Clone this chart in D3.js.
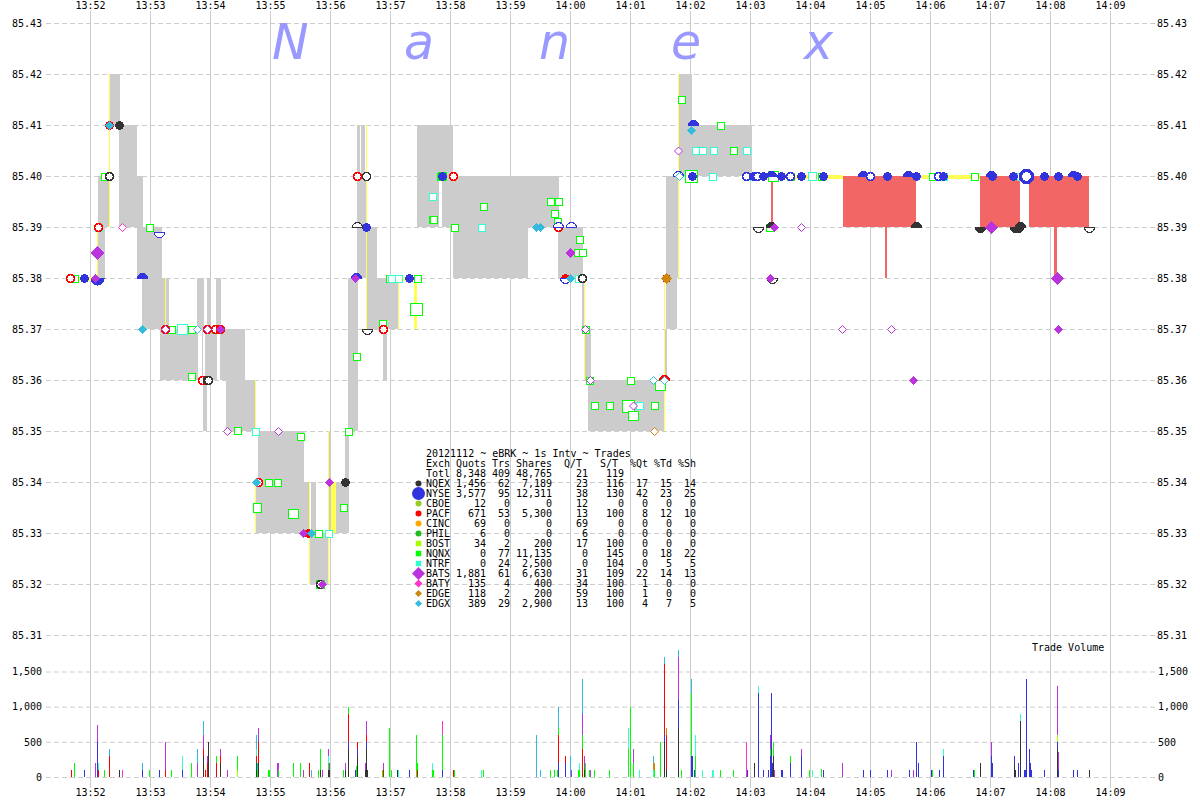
<!DOCTYPE html>
<html><head><meta charset="utf-8">
<script src="https://cdn.jsdelivr.net/npm/d3@7/dist/d3.min.js"></script>
<style>html,body{margin:0;padding:0;background:#fff}svg{display:block}
text{font-family:"DejaVu Sans Mono",monospace;font-size:10px;fill:#000}</style>
</head><body><svg id="c" width="1200" height="800"></svg>
<script>
// seconds after 13:52:00
const timeTicks=d3.range(0,18).map(i=>i*60);
const priceTicks=[85.31,85.32,85.33,85.34,85.35,85.36,85.37,85.38,85.39,85.40,85.41,85.42,85.43];
const volumeTicks=[0,500,1000,1500];
const brand=[["N",182],["a",314],["n",449],["e",581],["x",714]];

// quoted spread bands [s0,s1,low,high]
const spreadBands=[[8,15,85.38,85.39],[8,19,85.39,85.40],[20,30,85.41,85.42],[29,47,85.39,85.41],[47,53,85.39,85.40],[47,72,85.38,85.39],[52,79,85.37,85.38],[107,114,85.37,85.38],[117,121,85.37,85.38],[126,131,85.37,85.38],[70,108,85.36,85.37],[112,113,85.36,85.37],[115,127,85.36,85.37],[130,155,85.36,85.37],[113,117,85.35,85.36],[136,165,85.35,85.36],[168,214,85.34,85.35],[166,219,85.33,85.34],[221,226,85.33,85.34],[239,259,85.33,85.34],[220,238,85.32,85.33],[239,241,85.34,85.35],[255,259,85.34,85.35],[258,268,85.35,85.38],[277,309,85.37,85.38],[293,297,85.36,85.37],[267,270,85.40,85.41],[271,275,85.40,85.41],[267,276,85.39,85.40],[267,287,85.38,85.39],[327,363,85.40,85.41],[327,349,85.39,85.40],[352,469,85.39,85.40],[363,438,85.38,85.39],[468,493,85.38,85.39],[492,495,85.37,85.38],[494,501,85.36,85.37],[498,574,85.35,85.36],[574,577,85.36,85.37],[576,587,85.37,85.38],[576,588,85.38,85.40],[589,602,85.41,85.42],[589,662,85.40,85.41]];
const lockedBands=[[7,8,85.38,85.39],[19,20,85.39,85.42],[75,76,85.37,85.38],[165,166,85.35,85.36],[165,166,85.33,85.34],[219,220,85.32,85.34],[238,239,85.32,85.35],[241,246,85.33,85.34],[276,277,85.37,85.41],[308,309,85.37,85.38],[324,327,85.37,85.38],[494,495,85.36,85.38],[574,575,85.35,85.38],[588,589,85.38,85.42]];
const lockedFlat=[[-18,7,85.38],[300,327,85.38],[663,753,85.40],[832,838,85.40],[857,890,85.40]];
const crossedBands=[[753,826,85.39,85.40],[890,930,85.39,85.40],[939,999,85.39,85.40],[681,683,85.39,85.40],[795,797,85.38,85.39],[964,967,85.38,85.39]];

// markers [s,price,kind,shares]  F filled, O open, T/U upper half filled/open, B/V lower half filled/open
const mNQNX=[[-16,85.38,"O"],[14,85.40,"O"],[59,85.39,"O"],[81,85.37,"O"],[101,85.37,"O"],[101,85.3607,"O"],[147,85.3501,"O"],[125,85.37,"O"],[210,85.349,"O"],[178,85.34,"O"],[187,85.34,"O"],[167,85.335,"O",200],[203,85.3338,"O",300],[228,85.33,"O"],[230,85.32,"O",200],[253,85.335,"O"],[266,85.3646,"O"],[258,85.35,"O"],[326,85.374,"O",500],[292,85.371,"O"],[300,85.38,"O"],[327,85.38,"O"],[299,85.38,"O"],[342,85.3914,"O"],[350,85.40,"O"],[352,85.40,"O",200],[343,85.3914,"O"],[364,85.39,"O"],[393,85.394,"O"],[460,85.395,"O"],[468,85.395,"O"],[464,85.3926,"O"],[467,85.391,"O"],[489,85.3875,"O"],[487,85.385,"O"],[492,85.385,"O"],[495,85.37,"O"],[499,85.36,"O"],[504,85.355,"O"],[519,85.355,"O"],[540,85.36,"O"],[538,85.355,"O",500],[543,85.353,"O",300],[564,85.355,"O"],[570,85.359,"O",300],[591,85.415,"O"],[601,85.40,"O",500],[630,85.41,"O"],[643,85.405,"O"],[683,85.40,"O",300],[679,85.39,"O"],[700,85.40,"O"],[731,85.40,"O"],[842,85.40,"O"],[884,85.40,"O"]];
const mNTRF=[[8,85.39,"O"],[92,85.37,"O",300],[165,85.35,"O"],[238,85.33,"O"],[308,85.38,"O"],[301,85.38,"O"],[342,85.396,"O"],[391,85.39,"O"],[488,85.38,"O"],[549,85.355,"O"],[605,85.405,"O"],[612,85.405,"O"],[623,85.405,"O"],[622,85.40,"O"],[656,85.405,"O"],[663,85.40,"O"],[722,85.40,"O",200],[853,85.40,"O"],[930,85.40,"O"]];
const mPACF=[[-20,85.38,"O"],[19,85.41,"F"],[8,85.39,"O"],[267,85.40,"O"],[363,85.40,"O"],[75,85.37,"O"],[117,85.37,"O"],[125,85.37,"O"],[130,85.37,"O"],[112,85.36,"O"],[168,85.34,"O"],[293,85.37,"O"],[218,85.33,"F"],[468,85.39,"O"],[475,85.38,"F"],[574,85.36,"T"],[576,85.38,"F"]];
const mNYSE=[[-6,85.38,"F"],[7,85.38,"B",200],[52,85.38,"T"],[69,85.389,"V"],[276,85.39,"F"],[266,85.38,"T"],[319,85.38,"F"],[352,85.40,"F"],[481,85.39,"U"],[468,85.39,"U"],[475,85.38,"V"],[603,85.41,"T"],[602,85.40,"F"],[588,85.40,"U"],[656,85.40,"O"],[663,85.40,"F"],[667,85.40,"O"],[673,85.40,"F"],[681,85.40,"T"],[691,85.40,"F"],[700,85.40,"O"],[711,85.40,"F"],[733,85.40,"F"],[773,85.40,"T"],[780,85.40,"O"],[797,85.40,"F"],[818,85.40,"T"],[826,85.40,"F"],[848,85.40,"O"],[853,85.40,"F"],[901,85.40,"T"],[902,85.40,"F"],[923,85.40,"F"],[936,85.40,"O",1400],[954,85.40,"F"],[968,85.40,"F"],[983,85.40,"T"],[987,85.40,"F"]];
const mNQEX=[[29,85.41,"F"],[19,85.40,"O"],[276,85.40,"O",300],[267,85.39,"U"],[277,85.37,"V"],[668,85.39,"V"],[682,85.38,"V"],[999,85.39,"V"],[826,85.39,"T"],[890,85.39,"B"],[925,85.39,"B"],[928,85.39,"B"],[930,85.39,"T"],[255,85.34,"F"],[117,85.36,"O"],[118,85.36,"O"],[230,85.32,"O"],[492,85.38,"O"],[681,85.39,"T"],[967,85.38,"F"]];
const mBATS=[[7,85.385,"F",500],[5,85.38,"F"],[213,85.33,"F"],[232,85.32,"F"],[239,85.34,"F"],[130,85.37,"F"],[265,85.38,"F"],[480,85.385,"F"],[684,85.39,"F"],[680,85.38,"F"],[901,85.39,"F",500],[967,85.38,"F",500],[968,85.37,"F"],[823,85.36,"F"],[711,85.39,"O"],[752,85.37,"O"],[801,85.37,"O"],[137,85.35,"O"],[188,85.35,"O"],[588,85.405,"O"],[495,85.37,"O"],[500,85.36,"O"],[543,85.355,"O"],[75,85.37,"O"],[117,85.37,"O"]];
const mBATY=[[32,85.39,"O"]];
const mEDGE=[[576,85.38,"F",200],[564,85.35,"O"]];
const mEDGX=[[19,85.41,"F"],[52,85.37,"F"],[446,85.39,"F"],[450,85.39,"F"],[480,85.38,"F"],[601,85.409,"F"],[221,85.33,"F"],[166,85.34,"F"],[107,85.37,"O"],[589,85.40,"O"],[563,85.36,"O"],[574,85.36,"O"]];

// trade volume per exchange [s,shares]
const vNQEX=[[29,100],[113,300],[118,500],[130,200],[166,100],[168,200],[230,100],[238,100],[239,100],[255,100],[258,400],[267,300],[275,100],[276,400],[277,100],[307,100],[494,100],[574,500],[576,100],[588,700],[664,200],[682,100],[683,300],[890,200],[924,200],[925,100],[930,800],[967,400],[999,100]];
const vNYSE=[[-6,100],[7,500],[52,100],[69,100],[92,100],[166,100],[258,100],[265,100],[267,100],[276,100],[319,100],[352,100],[468,200],[475,200],[574,100],[588,400],[601,300],[602,300],[604,100],[657,100],[668,1200],[673,100],[678,100],[680,300],[681,1200],[682,100],[691,100],[692,100],[700,200],[711,300],[733,100],[773,100],[780,100],[797,100],[819,100],[826,500],[828,200],[841,100],[849,100],[853,300],[883,100],[901,300],[902,200],[924,100],[928,200],[934,100],[935,100],[936,1400],[939,400],[940,200],[941,100],[954,100],[967,100],[968,100],[983,100],[987,100]];
const vPACF=[[-19,100],[8,100],[19,300],[75,100],[113,100],[115,100],[117,200],[126,200],[130,100],[166,100],[168,300],[219,200],[258,400],[267,100],[276,100],[293,100],[327,100],[363,100],[468,400],[475,100],[492,400],[574,1000],[576,500]];
const vBOST=[[147,100],[967,100]];
const vNQNX=[[-16,200],[14,100],[59,100],[81,100],[101,200],[126,100],[147,200],[167,200],[178,100],[179,100],[188,100],[203,200],[210,200],[228,100],[230,300],[238,100],[253,100],[258,100],[266,150],[292,100],[299,700],[301,100],[326,600],[327,100],[342,100],[343,100],[352,500],[364,100],[393,100],[460,100],[464,100],[467,100],[468,100],[488,100],[489,100],[492,200],[495,200],[499,100],[504,100],[519,100],[538,400],[540,1000],[543,200],[564,100],[570,500],[591,100],[601,900],[605,300],[630,100],[643,100],[680,100],[683,200],[700,100],[719,100],[731,110],[842,100],[884,100]];
const vNTRF=[[8,100],[92,200],[166,100],[238,100],[308,100],[342,100],[391,100],[489,100],[538,300],[549,100],[563,100],[605,300],[612,100],[622,100],[623,100],[668,100],[722,100],[853,100],[930,100]];
const vBATS=[[5,200],[7,240],[75,400],[107,200],[113,200],[117,100],[130,100],[137,100],[168,200],[187,200],[188,100],[213,100],[232,100],[238,100],[239,100],[255,100],[275,100],[276,200],[293,100],[481,100],[492,300],[494,200],[500,100],[543,200],[588,600],[680,200],[684,100],[711,100],[752,200],[801,100],[823,100],[901,200],[967,700],[968,250]];
const vBATY=[[32,100],[352,200],[656,500]];
const vEDGE=[[563,100],[564,100],[576,100]];
const vEDGX=[[19,100],[52,100],[107,200],[113,200],[166,200],[221,100],[446,600],[450,100],[468,300],[480,300],[492,500],[563,100],[574,100],[588,100],[601,200]];

// summary table
const legendTitle="20121112 ~ eBRK ~ 1s Intv ~ Trades";
const headNames=["Quots","Trs","Shares","Q/T","S/T","%Qt","%Td","%Sh"];
const exch=["Totl","NQEX","NYSE","CBOE","PACF","CINC","PHIL","BOST","NQNX","NTRF","BATS","BATY","EDGE","EDGX"];
const colQuots=["8,348","1,456","3,577","12","671","69","6","34","0","0","1,881","135","118","389"];
const colTrs=["409","62","95","0","53","0","0","2","77","24","61","4","2","29"];
const colShares=["48,765","7,189","12,311","0","5,300","0","0","200","11,135","2,500","6,630","400","200","2,900"];
const colQT=["21","23","38","12","13","69","6","17","0","0","31","34","59","13"];
const colST=["119","116","130","0","100","0","0","100","145","104","109","100","100","100"];
const colPQ=["","17","42","0","8","0","0","0","0","0","22","1","1","4"];
const colPT=["","15","23","0","12","0","0","0","18","5","14","0","0","7"];
const colPS=["","14","25","0","10","0","0","0","22","5","13","0","0","5"];

const color={NQEX:"#333333",NYSE:"#3333dd",CBOE:"#99cc22",PACF:"#ff0000",CINC:"#ffaa00",PHIL:"#22bb22",BOST:"#aaff00",NQNX:"#00ff00",NTRF:"#33ffcc",BATS:"#bb33dd",BATY:"#ff33cc",EDGE:"#cc8811",EDGX:"#33bbdd"};
const shape={NQEX:"c",NYSE:"c",CBOE:"c",PACF:"c",CINC:"c",PHIL:"c",BOST:"s",NQNX:"s",NTRF:"s",BATS:"d",BATY:"d",EDGE:"d",EDGX:"d"};

const svg=d3.select("#c");
const x=d3.scaleLinear().domain([0,1020]).range([90,1110]);
const py=d3.scaleLinear().domain([85.31,85.43]).range([635,23]);
const vy=d3.scaleLinear().domain([0,1500]).range([777,671.5]);
const fmtTime=s=>{const m=13*60+52+s/60;return d3.format("02")(Math.floor(m/60))+":"+d3.format("02")(m%60);};
const fmtPrice=d3.format(".2f"),fmtVol=d3.format(",");
const clean=g=>{g.select(".domain").remove();};
const gridStyle=g=>g.selectAll("line").attr("stroke","#cccccc");

// grid and axes
svg.append("g").attr("transform","translate(0,11)")
  .call(d3.axisTop(x).tickValues(timeTicks).tickFormat(fmtTime).tickSize(-777).tickPadding(0))
  .call(clean).call(gridStyle).selectAll("text").attr("y",-2.5).attr("dy","0");
svg.append("g").attr("transform","translate(0,788)")
  .call(d3.axisBottom(x).tickValues(timeTicks).tickFormat(fmtTime).tickSize(0).tickPadding(0))
  .call(clean).selectAll("text").attr("y",8).attr("dy","0");
const dash="5,3";
svg.append("g").attr("transform","translate(46,0)")
  .call(d3.axisLeft(py).tickValues(priceTicks).tickFormat(fmtPrice).tickSize(-1109).tickPadding(4))
  .call(clean).call(gridStyle).call(g=>g.selectAll("line").attr("stroke-dasharray",dash));
svg.append("g").attr("transform","translate(46,0)")
  .call(d3.axisLeft(vy).tickValues(volumeTicks).tickFormat(fmtVol).tickSize(-1109).tickPadding(4))
  .call(clean).call(gridStyle).call(g=>g.selectAll("line").attr("stroke-dasharray",dash));
svg.append("g").attr("transform","translate(1155,0)")
  .call(d3.axisRight(py).tickValues(priceTicks).tickFormat(fmtPrice).tickSize(0).tickPadding(2)).call(clean);
svg.append("g").attr("transform","translate(1155,0)")
  .call(d3.axisRight(vy).tickValues(volumeTicks).tickFormat(fmtVol).tickSize(0).tickPadding(3)).call(clean);

// brand letters
svg.append("g").selectAll("text").data(brand).join("text")
  .attr("x",d=>x(d[1])).attr("y",59)
  .style("font-family","'DejaVu Sans',sans-serif").style("font-style","italic").style("font-size","49px")
  .style("fill","#9999ff").text(d=>d[0]);

// bands
const band=(data,fill)=>svg.append("g").attr("shape-rendering","crispEdges").selectAll("rect").data(data).join("rect")
  .attr("x",d=>x(d[0])).attr("width",d=>x(d[1])-x(d[0]))
  .attr("y",d=>py(d[3])).attr("height",d=>py(d[2])-py(d[3])).attr("fill",fill);
band(spreadBands,"#cccccc");
band(lockedBands,"#ffff55");
svg.append("g").attr("shape-rendering","crispEdges").selectAll("rect").data(lockedFlat).join("rect")
  .attr("x",d=>x(d[0])).attr("width",d=>x(d[1])-x(d[0]))
  .attr("y",d=>py(d[2])-1).attr("height",4).attr("fill","#ffff55");
band(crossedBands,"#f26666");

// volume stacks
const volSeries={NQEX:vNQEX,NYSE:vNYSE,PACF:vPACF,BOST:vBOST,NQNX:vNQNX,NTRF:vNTRF,BATS:vBATS,BATY:vBATY,EDGE:vEDGE,EDGX:vEDGX};
const keys=Object.keys(volSeries);
const secs=Array.from(new Set(keys.flatMap(k=>volSeries[k].map(d=>d[0])))).sort(d3.ascending);
const table=secs.map(s=>{const o={s};keys.forEach(k=>{const f=volSeries[k].find(d=>d[0]===s);o[k]=f?f[1]:0;});return o;});
const stacked=d3.stack().keys(keys)(table);
svg.append("g").attr("shape-rendering","crispEdges").selectAll("g").data(stacked).join("g")
  .attr("fill",d=>color[d.key]).selectAll("rect").data(d=>d.filter(e=>e[1]>e[0])).join("rect")
  .attr("x",d=>x(d.data.s)).attr("width",1)
  .attr("y",d=>vy(d[1])).attr("height",d=>vy(d[0])-vy(d[1]));

// markers
const sqSide=d3.scaleLinear().domain([100,500]).range([7,12]);
const circR=d3.scaleLinear().domain([100,1400]).range([3.9,6]);
const diaR=d3.scaleLinear().domain([100,500]).range([4,6]);
function markerPath(ex,kind,sh){
  const sp=shape[ex];
  if("TUBV".includes(kind)){
    const up="TU".includes(kind);
    const r=sh>100?6.5:5;
    return d3.arc()({innerRadius:0,outerRadius:r,startAngle:up?-Math.PI/2:Math.PI/2,endAngle:up?Math.PI/2:Math.PI*1.5});
  }
  if(sp==="s"){const a=sqSide(sh);return d3.symbol(d3.symbolSquare,a*a)();}
  if(sp==="d"){const r=diaR(sh);return d3.symbol(d3.symbolDiamond2,(r/0.62625)*(r/0.62625))();}
  const r=circR(sh);return d3.symbol(d3.symbolCircle,Math.PI*r*r)();
}
const strokeW=(ex,d)=>{
  if(d[3]>=1000)return 3.5;
  if(shape[ex]==="c"&&d[2]==="O")return 1.5;
  return 1;
};
const drawOrder=[["NQNX",mNQNX],["NTRF",mNTRF],["PACF",mPACF],["NYSE",mNYSE],["NQEX",mNQEX],["BATS",mBATS],["BATY",mBATY],["EDGE",mEDGE],["EDGX",mEDGX]];
drawOrder.forEach(([ex,list])=>{
  svg.append("g").selectAll("path").data(list).join("path")
    .attr("shape-rendering",d=>(shape[ex]==="d"&&d[2]==="O")?"auto":"crispEdges")
    .attr("transform",d=>`translate(${x(d[0])+0.5},${py(d[1])+0.5})`)
    .attr("d",d=>markerPath(ex,d[2],d[3]||100))
    .attr("fill",d=>"FTB".includes(d[2])?color[ex]:"#fff")
    .attr("stroke",color[ex])
    .attr("stroke-width",d=>strokeW(ex,d));
});

// summary table
const lg=svg.append("g");
const rowY=i=>477+i*10;
lg.append("text").attr("x",426).attr("y",457).text(legendTitle);
lg.append("text").attr("x",426).attr("y",467).text("Exch");
const headEnd=[486,510,552,582,618,648,672,696];
headNames.forEach((h,i)=>lg.append("text").attr("x",headEnd[i]).attr("y",467).attr("text-anchor","end").text(h));
const cols=[colQuots,colTrs,colShares,colQT,colST,colPQ,colPT,colPS];
const colEnd=[486,510,552,588,624,648,672,696];
cols.forEach((c,i)=>lg.append("g").selectAll("text").data(c).join("text")
  .attr("x",colEnd[i]).attr("y",(d,j)=>rowY(j)).attr("text-anchor","end").text(d=>d));
lg.append("g").selectAll("text").data(exch).join("text").attr("x",426).attr("y",(d,j)=>rowY(j)).text(d=>d);
lg.append("g").selectAll("path").data(exch.slice(1)).join("path")
  .attr("transform",(d,j)=>`translate(418.5,${rowY(j+1)-3.5})`)
  .attr("fill",d=>color[d])
  .attr("d",d=>{
    const big=d==="NYSE"||d==="BATS";
    if(shape[d]==="s")return d3.symbol(d3.symbolSquare,30)();
    if(shape[d]==="d"){const r=big?6.5:(d==="BATY"?4:3.5);return d3.symbol(d3.symbolDiamond2,(r/0.62625)*(r/0.62625))();}
    const r=big?6.5:3;return d3.symbol(d3.symbolCircle,Math.PI*r*r)();
  });
svg.append("text").attr("x",1032).attr("y",651).text("Trade Volume");
</script></body></html>
